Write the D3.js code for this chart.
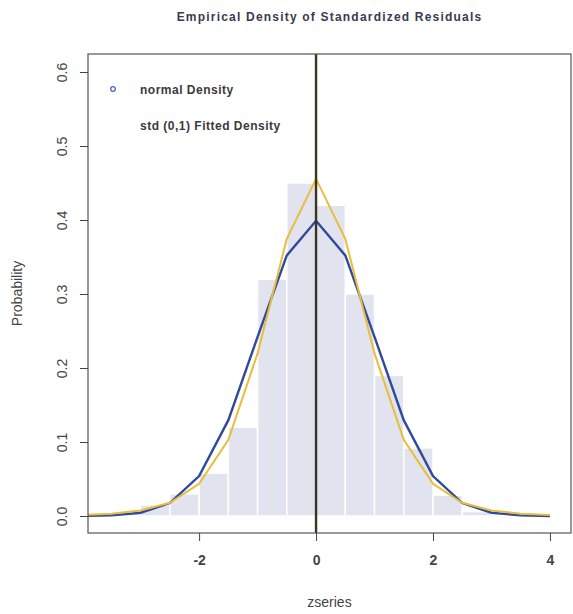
<!DOCTYPE html>
<html><head><meta charset="utf-8">
<script src="https://cdn.jsdelivr.net/npm/d3@7"></script>
<style>body{margin:0;background:#fff}svg{display:block}text{font-family:"Liberation Sans",Arial,sans-serif}</style>
</head><body>
<script>
// histogram bins (left edges, width 0.5) and densities
const binStarts = [-3.5,-3,-2.5,-2,-1.5,-1,-0.5,0,0.5,1,1.5,2,2.5,3,3.5];
const binHeights = [0.004,0.015,0.03,0.058,0.12,0.32,0.45,0.42,0.3,0.19,0.092,0.028,0.006,0.002,0.001];
const binWidth = 0.5;
// curve evaluation points
const curveX = [-4,-3.5,-3,-2.5,-2,-1.5,-1,-0.5,0,0.5,1,1.5,2,2.5,3,3.5,4];
const normalDensity = [0.0001,0.0009,0.0044,0.0175,0.054,0.1295,0.242,0.3521,0.3989,0.3521,0.242,0.1295,0.054,0.0175,0.0044,0.0009,0.0001];
const stdDensity = [0.0015,0.0032,0.0074,0.0178,0.0434,0.103,0.2197,0.3747,0.4555,0.3747,0.2197,0.103,0.0434,0.0178,0.0074,0.0032,0.0015];
const xTicks = [-2,0,2,4];
const yTicks = [0,0.1,0.2,0.3,0.4,0.5,0.6];
const legendLabels = ["normal Density","std (0,1) Fitted Density"];
const titleText = "Empirical Density of Standardized Residuals";

const W=573,H=614;
const L=88,R=571,T=54,B=533;
const svg=d3.select("body").append("svg").attr("width",W).attr("height",H);
const x=d3.scaleLinear().domain([-3.9,4.36]).range([L,R]);
const y=d3.scaleLinear().domain([0,0.6]).range([516,72]);

svg.append("defs").append("clipPath").attr("id","clip").append("rect")
  .attr("x",L).attr("y",T).attr("width",R-L).attr("height",B-T);
const g=svg.append("g").attr("clip-path","url(#clip)");

g.selectAll("rect.bar").data(binStarts).join("rect").attr("class","bar")
  .attr("x",d=>x(d)).attr("width",d=>x(d+binWidth)-x(d))
  .attr("y",(d,i)=>y(binHeights[i])).attr("height",(d,i)=>y(0)-y(binHeights[i]))
  .attr("fill","#e1e4ee").attr("stroke","#ffffff").attr("stroke-width",1.5);

const line=d3.line().x(d=>x(d[0])).y(d=>y(d[1]));
g.append("path").datum(curveX.map((v,i)=>[v,normalDensity[i]])).attr("d",line)
  .attr("fill","none").attr("stroke","#2f4a9c").attr("stroke-width",2.4);
g.append("path").datum(curveX.map((v,i)=>[v,stdDensity[i]])).attr("d",line)
  .attr("fill","none").attr("stroke","#e8bd3c").attr("stroke-width",2);

// vertical line at 0
svg.append("line").attr("x1",x(0)).attr("x2",x(0)).attr("y1",T).attr("y2",B)
  .attr("stroke","#3b3620").attr("stroke-width",2.4);

// frame
svg.append("rect").attr("x",L).attr("y",T).attr("width",R-L).attr("height",B-T)
  .attr("fill","none").attr("stroke","#555").attr("stroke-width",1.2);

// axes
const xa=svg.append("g").attr("transform",`translate(0,${B})`)
  .call(d3.axisBottom(x).tickValues(xTicks).tickSize(8).tickPadding(14).tickFormat(d=>String(d)));
xa.select(".domain").remove();
xa.selectAll("line").attr("stroke","#444");
xa.selectAll("text").attr("font-size",14).attr("font-weight","bold").attr("fill","#444");

const ya=svg.append("g").attr("transform",`translate(${L},0)`)
  .call(d3.axisLeft(y).tickValues(yTicks).tickSize(8).tickFormat(d3.format(".1f")));
ya.select(".domain").remove();
ya.selectAll("line").attr("stroke","#444");
ya.selectAll("text").attr("font-size",14).attr("fill","#444")
  .attr("text-anchor","middle").attr("dy",null).attr("x",null)
  .attr("transform",d=>`translate(-26,0) rotate(-90)`).attr("dominant-baseline","central");

// titles
svg.append("text").attr("x",(L+R)/2).attr("y",21).attr("text-anchor","middle")
  .attr("font-size",12).attr("letter-spacing",1.2).attr("font-weight","bold").attr("fill","#3a3a50").text(titleText);
svg.append("text").attr("x",(L+R)/2).attr("y",607).attr("text-anchor","middle")
  .attr("font-size",14).attr("fill","#444").text("zseries");
svg.append("text").attr("transform",`translate(22,${(T+B)/2}) rotate(-90)`).attr("text-anchor","middle")
  .attr("font-size",14).attr("fill","#444").text("Probability");

// legend
svg.append("circle").attr("cx",113).attr("cy",89).attr("r",2.3).attr("fill","none")
  .attr("stroke","#4a66c0").attr("stroke-width",1.3);
svg.selectAll("text.leg").data(legendLabels).join("text").attr("class","leg")
  .attr("x",140).attr("y",(d,i)=>94+i*36).attr("font-size",12).attr("letter-spacing",0.5).attr("fill","#3a3a3a")
  .attr("font-weight","bold").text(d=>d);
</script>
</body></html>
